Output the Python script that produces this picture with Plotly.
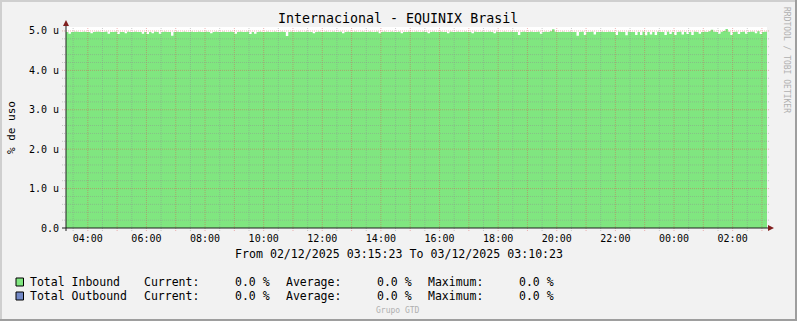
import plotly.graph_objects as go
import pandas as pd

# ---------------- data ----------------
chart_title = "Internacional - EQUINIX Brasil"
y_axis_title = "% de uso"
period_text = "From 02/12/2025 03:15:23 To 03/12/2025 03:10:23"
start_time = "2025-12-02 03:15:23"
end_time = "2025-12-03 03:10:23"
step = "5min"

# Total Inbound, in micro-percent ("u")
inbound_u = [
    4.98, 4.97, 4.93, 4.97, 4.98, 4.98, 4.97, 4.97, 4.98, 4.97, 4.97, 4.94, 4.97, 4.98, 4.98, 4.97,
    4.97, 4.98, 4.93, 4.97, 4.97, 4.98, 4.92, 4.97, 4.97, 4.94, 4.98, 4.97, 4.97, 4.98, 4.97, 4.97,
    4.93, 4.97, 4.92, 4.97, 4.94, 4.98, 4.97, 4.93, 4.97, 4.98, 4.97, 4.97, 4.88, 4.97, 4.98, 4.97,
    4.97, 4.98, 4.97, 4.97, 4.98, 4.97, 4.97, 4.98, 4.97, 4.97, 4.98, 4.97, 4.94, 4.97, 4.98, 4.97,
    4.97, 4.98, 4.97, 4.97, 4.98, 4.97, 4.93, 4.97, 4.98, 4.97, 4.97, 4.98, 4.92, 4.97, 4.93, 4.97,
    4.98, 4.97, 4.97, 4.98, 4.97, 4.97, 4.98, 4.97, 4.97, 4.98, 4.97, 4.87, 4.97, 4.98, 4.97, 4.97,
    4.98, 4.97, 4.97, 4.98, 4.97, 4.97, 4.94, 4.97, 4.98, 4.97, 4.97, 4.98, 4.97, 4.97, 4.98, 4.97,
    4.97, 4.98, 4.94, 4.97, 4.98, 4.97, 4.97, 4.98, 4.97, 4.97, 4.98, 4.97, 4.97, 4.98, 4.97, 4.97,
    4.98, 4.94, 4.97, 4.98, 4.97, 4.97, 4.98, 4.97, 4.97, 4.98, 4.94, 4.97, 4.97, 4.98, 4.97, 4.97,
    4.98, 4.97, 4.97, 4.98, 4.97, 4.94, 4.97, 4.98, 4.97, 4.97, 4.98, 4.97, 4.97, 4.94, 4.98, 4.97,
    4.97, 4.98, 4.97, 4.97, 4.98, 4.97, 4.97, 4.94, 4.98, 4.97, 4.97, 4.98, 4.97, 4.97, 4.98, 4.97,
    4.94, 4.98, 4.97, 4.97, 4.98, 4.97, 4.97, 4.98, 4.97, 4.97, 4.90, 4.97, 4.98, 4.97, 4.97, 4.98,
    4.97, 4.97, 4.98, 4.93, 4.97, 4.98, 4.97, 4.99, 5.04, 4.98, 4.97, 4.97, 4.98, 4.97, 4.97, 4.98,
    4.97, 4.97, 4.88, 4.97, 4.98, 4.90, 4.97, 4.97, 4.98, 4.91, 4.97, 4.97, 4.98, 4.97, 4.97, 4.98,
    4.97, 4.97, 4.90, 4.98, 4.97, 4.97, 4.89, 4.98, 4.97, 4.97, 4.90, 4.97, 4.90, 4.98, 4.89, 4.97,
    4.91, 4.97, 4.90, 4.98, 4.97, 4.97, 4.90, 4.98, 4.92, 4.97, 4.90, 4.97, 4.98, 4.91, 4.97, 4.92,
    4.97, 4.90, 4.98, 4.97, 4.93, 4.97, 4.98, 4.97, 4.99, 5.03, 4.98, 4.97, 4.93, 4.98, 5.00, 5.05,
    4.98, 4.90, 4.97, 4.98, 4.92, 4.97, 4.98, 4.93, 4.97, 4.98, 4.98, 4.94, 4.99, 4.92, 4.97, 4.98,
]

y_tick_values = [0, 1, 2, 3, 4, 5]
y_tick_labels = ["0.0", "1.0 u", "2.0 u", "3.0 u", "4.0 u", "5.0 u"]
x_tick_labels = ["04:00", "06:00", "08:00", "10:00", "12:00", "14:00",
                 "16:00", "18:00", "20:00", "22:00", "00:00", "02:00"]
first_x_tick = "2025-12-02 04:00"

legend_names = ["Total Inbound", "Total Outbound"]
legend_current = ["0.0 %", "0.0 %"]
legend_average = ["0.0 %", "0.0 %"]
legend_maximum = ["0.0 %", "0.0 %"]

# ---------------- style ----------------
FONT = "DejaVu Sans Mono"
GREEN = "#80E680"
BLUE = "#7389C6"
BACK = "#F2F2F2"
MGRID = "rgba(222,79,79,0.42)"
GRID = "rgba(143,143,143,0.45)"
AXIS = "#1F1F1F"
ARROW = "#801F1F"
legend_colors = [GREEN, BLUE]

FIG_W, FIG_H = 797, 321
L, R, T, B = 66, 30, 27, 93
PW, PH = FIG_W - L - R, FIG_H - T - B
Y_MAX = 5.1


def px_x(px):
    return (px - L) / PW


def px_y(py):
    return (FIG_H - B - py) / PH


times = pd.date_range(start_time, periods=len(inbound_u), freq=step)
x_tick_values = pd.date_range(first_x_tick, periods=len(x_tick_labels), freq="2h")

fig = go.Figure()
fig.add_trace(go.Scatter(
    x=times, y=inbound_u, mode="lines",
    line=dict(width=0, shape="vh", color=GREEN),
    fill="tozeroy", fillcolor=GREEN, hoverinfo="skip", showlegend=False,
))

shapes = []
# vertical grid (minor every 30 min, major every hour)
minor_x = pd.date_range("2025-12-02 03:30", end_time, freq="30min")
for t in minor_x:
    major = t.minute == 0
    shapes.append(dict(type="line", xref="x", yref="paper", x0=t, x1=t,
                       y0=px_y(231), y1=1, layer="above",
                       line=dict(color=MGRID if major else GRID, width=1, dash="1px,1px")))
# horizontal grid (minor 0.2, major 1.0)
for i in range(1, 26):
    v = i * 0.2
    major = i % 5 == 0
    shapes.append(dict(type="line", xref="paper", yref="y", x0=px_x(62), x1=px_x(770),
                       y0=v, y1=v, layer="above",
                       line=dict(color=MGRID if major else GRID, width=1, dash="1px,1px")))
# axes
shapes.append(dict(type="line", xref="paper", yref="paper", x0=px_x(62), x1=px_x(769),
                   y0=0, y1=0, layer="above", line=dict(color=AXIS, width=1)))
shapes.append(dict(type="line", xref="paper", yref="paper", x0=0, x1=0,
                   y0=px_y(231), y1=px_y(22), layer="above", line=dict(color=AXIS, width=1)))
# arrows
shapes.append(dict(type="path", xref="paper", yref="paper", xsizemode="pixel", ysizemode="pixel",
                   xanchor=px_x(768), yanchor=0, path="M 0,3 L 6,0 L 0,-3 Z",
                   fillcolor=ARROW, line=dict(width=0), layer="above"))
shapes.append(dict(type="path", xref="paper", yref="paper", xsizemode="pixel", ysizemode="pixel",
                   xanchor=0, yanchor=px_y(26), path="M -3,0 L 0,6 L 3,0 Z",
                   fillcolor=ARROW, line=dict(width=0), layer="above"))
# frame
shapes.append(dict(type="rect", xref="paper", yref="paper", x0=px_x(0), x1=px_x(2),
                   y0=px_y(321), y1=px_y(0), fillcolor="#CFCFCF", line=dict(width=0)))
shapes.append(dict(type="rect", xref="paper", yref="paper", x0=px_x(0), x1=px_x(797),
                   y0=px_y(2), y1=px_y(0), fillcolor="#CFCFCF", line=dict(width=0)))
shapes.append(dict(type="rect", xref="paper", yref="paper", x0=px_x(795), x1=px_x(797),
                   y0=px_y(321), y1=px_y(0), fillcolor="#9E9E9E", line=dict(width=0)))
shapes.append(dict(type="rect", xref="paper", yref="paper", x0=px_x(0), x1=px_x(797),
                   y0=px_y(321), y1=px_y(319), fillcolor="#9E9E9E", line=dict(width=0)))

annotations = []


def text(s, x, y, size, color="#000000", xanchor="left", angle=0):
    annotations.append(dict(text=s, xref="paper", yref="paper", x=px_x(x), y=px_y(y),
                            xanchor=xanchor, yanchor="middle", showarrow=False,
                            textangle=angle, borderpad=0,
                            font=dict(family=FONT, size=size, color=color)))


text(chart_title, 398, 19, 13.3, xanchor="center")
text(y_axis_title, 11, 128, 11, xanchor="center", angle=-90)
text(period_text, 398.5, 254, 11.6, xanchor="center")
text("Grupo GTD", 398, 310, 8, color="#B0B0B0", xanchor="center")
text("RRDTOOL / TOBI OETIKER", 787, 60, 8, color="#B0B0B0", xanchor="center", angle=90)

row_y = [282, 296]
for k, name in enumerate(legend_names):
    yy = row_y[k]
    shapes.append(dict(type="rect", xref="paper", yref="paper",
                       x0=px_x(16), x1=px_x(23.5), y0=px_y(yy + 4), y1=px_y(yy - 4),
                       fillcolor=legend_colors[k], line=dict(color="#000000", width=1)))
    text(name, 29, yy, 11.5)
    text("Current:", 143, yy, 11.5)
    text(legend_current[k], 234, yy, 11.5)
    text("Average:", 285, yy, 11.5)
    text(legend_average[k], 376, yy, 11.5)
    text("Maximum:", 427, yy, 11.5)
    text(legend_maximum[k], 518, yy, 11.5)

fig.update_layout(
    width=FIG_W, height=FIG_H,
    margin=dict(l=L, r=R, t=T, b=B, pad=0),
    paper_bgcolor=BACK, plot_bgcolor="#FFFFFF",
    showlegend=False,
    shapes=shapes, annotations=annotations,
    xaxis=dict(type="date", range=[start_time, end_time], showgrid=False, zeroline=False,
               showline=False, tickvals=x_tick_values, ticktext=x_tick_labels,
               ticks="outside", ticklen=1, tickcolor="rgba(0,0,0,0)",
               tickfont=dict(family=FONT, size=10, color="#000000")),
    yaxis=dict(range=[0, Y_MAX], showgrid=False, zeroline=False, showline=False,
               tickvals=y_tick_values, ticktext=y_tick_labels,
               ticks="outside", ticklen=4, tickcolor="rgba(0,0,0,0)",
               tickfont=dict(family=FONT, size=10, color="#000000")),
)

fig.write_html("out.html")
